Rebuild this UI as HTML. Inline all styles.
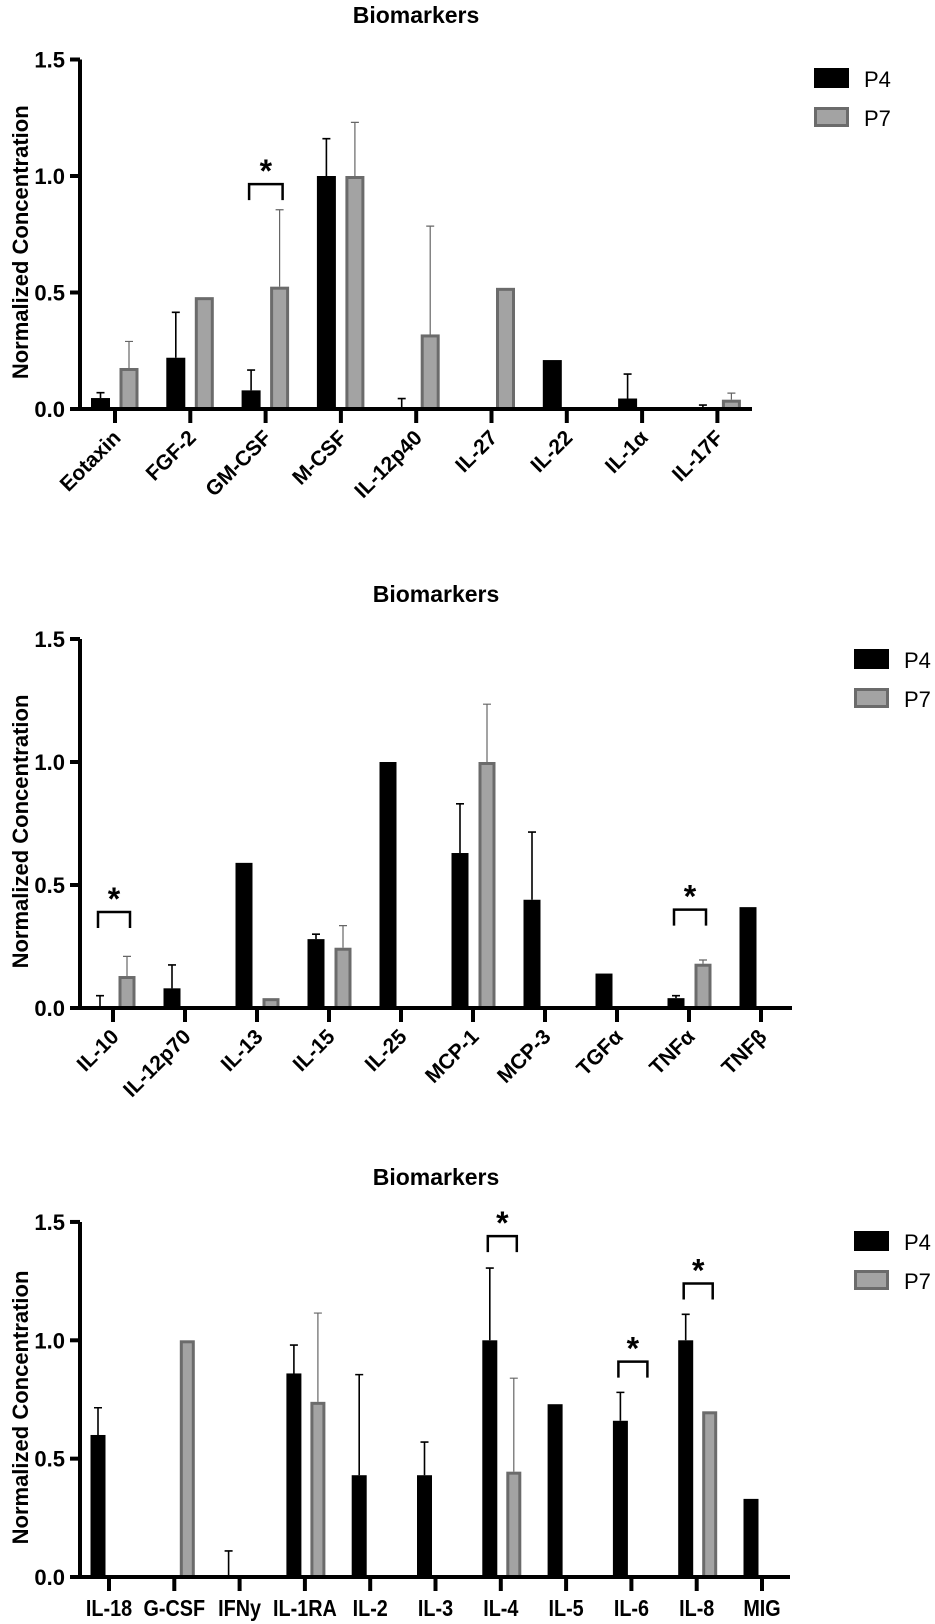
<!DOCTYPE html>
<html><head><meta charset="utf-8"><style>
body{margin:0;background:#fff;}
svg{display:block;font-family:"Liberation Sans",Arial,sans-serif;}
</style></head><body>
<svg id="fig" width="935" height="1624" viewBox="0 0 935 1624" xmlns="http://www.w3.org/2000/svg"></svg>
<script>
// ---- Chart 1 data ----
const cats1 = ["Eotaxin","FGF-2","GM-CSF","M-CSF","IL-12p40","IL-27","IL-22","IL-1α","IL-17F"];
const p4Vals1 = [0.047,0.22,0.08,1.0,0,0,0.21,0.045,0];
const p4Err1  = [0.07,0.415,0.167,1.16,0.045,null,null,0.15,0.017];
const p7Vals1 = [0.176,0.48,0.525,1.0,0.32,0.52,0,0,0.04];
const p7Err1  = [0.29,null,0.855,1.23,0.785,null,null,null,0.068];
const sig1 = [{cat:2,level:0.965}];
// ---- Chart 2 data ----
const cats2 = ["IL-10","IL-12p70","IL-13","IL-15","IL-25","MCP-1","MCP-3","TGFα","TNFα","TNFβ"];
const p4Vals2 = [0,0.08,0.59,0.28,1.0,0.63,0.44,0.14,0.04,0.41];
const p4Err2  = [0.05,0.175,null,0.30,null,0.83,0.715,null,0.05,null];
const p7Vals2 = [0.13,0,0.04,0.245,0,1.0,0,0,0.18,0];
const p7Err2  = [0.21,null,null,0.335,null,1.235,null,null,0.195,null];
const sig2 = [{cat:0,level:0.39},{cat:8,level:0.40}];
// ---- Chart 3 data ----
const cats3 = ["IL-18","G-CSF","IFNy","IL-1RA","IL-2","IL-3","IL-4","IL-5","IL-6","IL-8","MIG"];
const p4Vals3 = [0.6,0,0,0.86,0.43,0.43,1.0,0.73,0.66,1.0,0.33];
const p4Err3  = [0.715,null,0.11,0.98,0.855,0.57,1.305,null,0.78,1.11,null];
const p7Vals3 = [0,1.0,0,0.74,0,0,0.445,0,0,0.70,0];
const p7Err3  = [null,null,null,1.115,null,null,0.84,null,null,null,null];
const sig3 = [{cat:6,level:1.44},{cat:8,level:0.91},{cat:9,level:1.24}];
const yTicks = ["0.0","0.5","1.0","1.5"];
const seriesNames = ["P4","P7"];

const NS="http://www.w3.org/2000/svg";
const svg=document.getElementById('fig');
function mk(tag,attrs,parent,txt){const e=document.createElementNS(NS,tag);for(const k in attrs)e.setAttribute(k,attrs[k]);if(txt!==undefined)e.textContent=txt;(parent||svg).appendChild(e);return e;}

function drawChart(o){
  const g=mk('g',{});
  
  
  const y=v=>o.zero-v*o.scale;
  const x=i=>o.x0+i*o.step;
  const t=mk('text',{x:o.titleX,y:o.titleY,'text-anchor':'middle','font-size':23,'font-weight':'bold'},g,'Biomarkers');
  
  
  const yt=mk('text',{transform:`translate(28,${(o.zero+y(1.5))/2+8}) rotate(-90)`,'text-anchor':'middle','font-size':22,'font-weight':'bold'},g,'Normalized Concentration');
  
  
  for(let i=0;i<o.cats.length;i++){
    const c4=x(i)+o.off4, c7=x(i)+o.off7, w=o.bw;
    if(o.p4[i]>0){const r=mk('rect',{x:c4-w/2,y:y(o.p4[i]),width:w,height:o.p4[i]*o.scale,fill:'#000'},g);
      
      }
    if(o.p7[i]>0){const r=mk('rect',{x:c7-w/2+1.5,y:y(o.p7[i])+1.5,width:w-3,height:Math.max(o.p7[i]*o.scale-1.5,0),fill:'#a3a3a3',stroke:'#6b6b6b','stroke-width':3},g);
      
      }
    if(o.e4[i]!=null){const p=mk('path',{d:`M${c4} ${y(o.p4[i])}V${y(o.e4[i])}M${c4-4} ${y(o.e4[i])}H${c4+4}`,stroke:'#000','stroke-width':1.6,fill:'none'},g);
      
      }
    if(o.e7[i]!=null){const p=mk('path',{d:`M${c7} ${y(o.p7[i])}V${y(o.e7[i])}M${c7-4} ${y(o.e7[i])}H${c7+4}`,stroke:'#666','stroke-width':1.2,fill:'none'},g);
      
      }
  }
  const ax=mk('path',{d:`M80 ${y(1.5)}V${o.zero+1}M78 ${o.zero}H${o.xEnd}`,stroke:'#000','stroke-width':4,fill:'none'},g);
  
  
  yTicks.forEach(s=>{const v=parseFloat(s);
    mk('path',{d:`M70 ${y(v)}H80`,stroke:'#000','stroke-width':4},g);
    const tl=mk('text',{x:65,y:y(v)+8,'text-anchor':'end','font-size':22,'font-weight':'bold'},g,s);
    
    
  });
  for(let i=0;i<o.cats.length;i++){
    mk('path',{d:`M${x(i)} ${o.zero}V${o.zero+14}`,stroke:'#000','stroke-width':4},g);
    let tl;
    if(o.rot) tl=mk('text',{transform:`translate(${x(i)+7},${o.zero+30}) rotate(-45)`,'text-anchor':'end','font-size':21,'font-weight':'bold'},g,o.cats[i]);
    else tl=mk('text',{transform:`translate(${x(i)},${o.zero+39}) scale(0.86,1)`,'text-anchor':'middle','font-size':23,'font-weight':'bold'},g,o.cats[i]);
    
    
  }
  o.sig.forEach(s=>{const l=x(s.cat)+o.off4-2, r=x(s.cat)+o.off7+3, yy=y(s.level);
    const b=mk('path',{d:`M${l} ${yy+16}V${yy}H${r}V${yy+16}`,stroke:'#000','stroke-width':2.5,fill:'none'},g);
    
    
    const st=mk('text',{x:(l+r)/2,y:yy-2,'text-anchor':'middle','font-size':32,'font-weight':'bold'},g,'*');
    
    
  });
  seriesNames.forEach((n,k)=>{const ly=o.legY+k*39;
    const r=k===0?mk('rect',{x:o.legX,y:ly,width:35,height:20,fill:'#000'},g):mk('rect',{x:o.legX+1.5,y:ly+1.5,width:32,height:17,fill:'#a3a3a3',stroke:'#6b6b6b','stroke-width':3},g);
    
    
    const lt=mk('text',{x:o.legX+50,y:ly+19,'font-size':22},g,n);
    
    
  });
}
drawChart({name:'chart-1',cats:cats1,p4:p4Vals1,e4:p4Err1,p7:p7Vals1,e7:p7Err1,sig:sig1,zero:409,scale:233,x0:115,step:75.3,off4:-14.5,off7:14,bw:19,xEnd:752,rot:true,titleX:416,titleY:23,legX:814,legY:68});
drawChart({name:'chart-2',cats:cats2,p4:p4Vals2,e4:p4Err2,p7:p7Vals2,e7:p7Err2,sig:sig2,zero:1008,scale:246,x0:113,step:72,off4:-13,off7:14,bw:17,xEnd:792,rot:true,titleX:436,titleY:602,legX:854,legY:649});
drawChart({name:'chart-3',cats:cats3,p4:p4Vals3,e4:p4Err3,p7:p7Vals3,e7:p7Err3,sig:sig3,zero:1577,scale:236.7,x0:109,step:65.3,off4:-11,off7:13,bw:15,xEnd:790,rot:false,titleX:436,titleY:1185,legX:854,legY:1231});
</script>
</body></html>
